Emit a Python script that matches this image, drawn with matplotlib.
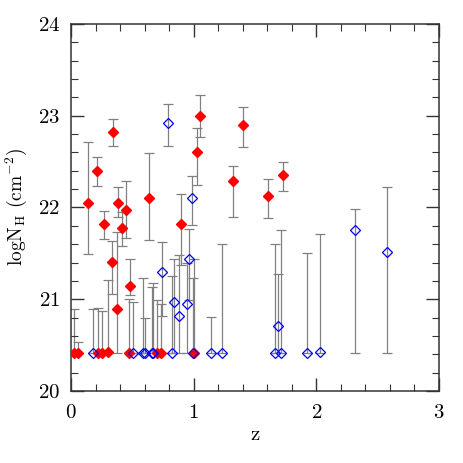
import matplotlib
matplotlib.use("Agg")
import matplotlib.pyplot as plt
from matplotlib.ticker import MultipleLocator
import numpy as np

# filled red diamonds: z, logNH, lower end, upper end of bar
red_z = [0.027, 0.054, 0.141, 0.209, 0.223, 0.250, 0.269, 0.299, 0.334, 0.345,
         0.372, 0.386, 0.418, 0.448, 0.476, 0.481, 0.638, 0.700, 0.730, 0.896,
         1.000, 1.027, 1.051, 1.323, 1.399, 1.608, 1.725]
red_n = [20.41, 20.41, 22.05, 22.40, 20.41, 20.41, 21.82, 20.43, 21.41, 22.82,
         20.89, 22.05, 21.78, 21.97, 20.41, 21.14, 22.10, 20.41, 20.41, 21.82,
         20.41, 22.60, 23.00, 22.29, 22.90, 22.12, 22.35]
red_lo = [20.41, 20.41, 21.49, 22.23, 20.41, 20.41, 21.66, 20.41, 21.06, 22.67,
          20.41, 21.90, 21.58, 21.67, 20.41, 21.05, 21.65, 20.41, 20.41, 21.37,
          20.41, 22.25, 22.77, 21.90, 22.66, 21.89, 22.18]
red_hi = [20.89, 20.53, 22.71, 22.55, 20.91, 20.87, 21.96, 21.21, 21.64, 22.96,
          21.73, 22.22, 21.95, 22.29, 21.00, 21.44, 22.59, 20.99, 20.95, 22.15,
          21.44, 22.87, 23.23, 22.45, 23.09, 22.31, 22.50]

# open blue diamonds
blue_z = [0.180, 0.503, 0.590, 0.600, 0.660, 0.670, 0.739, 0.788, 0.826, 0.842,
          0.880, 0.943, 0.964, 0.989, 0.995, 1.141, 1.231, 1.665, 1.690, 1.709,
          1.923, 2.029, 2.315, 2.573]
blue_n = [20.41, 20.41, 20.41, 20.41, 20.41, 20.41, 21.30, 22.92, 20.41, 20.97,
          20.82, 20.95, 21.44, 22.10, 20.41, 20.41, 20.41, 20.41, 20.71, 20.41,
          20.41, 20.42, 21.75, 21.52]
blue_lo = [20.41, 20.41, 20.41, 20.41, 20.41, 20.41, 20.82, 22.67, 20.41, 20.41,
           20.41, 20.41, 20.99, 21.81, 20.41, 20.41, 20.41, 20.41, 20.41, 20.41,
           20.41, 20.41, 20.41, 20.41]
blue_hi = [20.89, 20.97, 21.23, 20.80, 21.13, 21.18, 21.62, 23.13, 21.25, 21.44,
           21.48, 21.40, 21.77, 22.34, 21.23, 20.81, 21.60, 21.60, 21.27, 21.75,
           21.50, 21.71, 21.98, 22.22]

plt.rcParams['font.family'] = ['cmr10', 'DejaVu Serif']
plt.rcParams['mathtext.fontset'] = 'cm'
plt.rcParams['axes.formatter.use_mathtext'] = True

fig = plt.figure(figsize=(4.63, 4.63), dpi=100)
ax = fig.add_axes([0.1534, 0.1555, 0.7946, 0.7927])

ebar = dict(fmt='none', ecolor='#808080', elinewidth=0.9, capsize=3.5, capthick=0.9, zorder=1)

rn = np.array(red_n)
ax.errorbar(red_z, rn, yerr=[rn - np.array(red_lo), np.array(red_hi) - rn], **ebar)
bn = np.array(blue_n)
ax.errorbar(blue_z, bn, yerr=[bn - np.array(blue_lo), np.array(blue_hi) - bn], **ebar)

ax.plot(red_z, red_n, linestyle='none', marker='D', ms=5, mfc='red', mec='red', zorder=3)
ax.plot(blue_z, blue_n, linestyle='none', marker='D', ms=5, mfc='none', mec='blue',
        mew=0.9, zorder=3)

ax.set_xlim(0, 3)
ax.set_ylim(20, 24)
ax.xaxis.set_major_locator(MultipleLocator(1))
ax.xaxis.set_minor_locator(MultipleLocator(0.2))
ax.yaxis.set_major_locator(MultipleLocator(1))
ax.yaxis.set_minor_locator(MultipleLocator(0.2))
ax.tick_params(which='both', direction='in', top=True, right=True, color='#333333',
               labelsize=15)
ax.tick_params(axis='x', pad=9)
ax.tick_params(axis='y', pad=8)
ax.tick_params(which='major', length=9.5, width=1)
ax.tick_params(which='minor', length=5, width=0.8)
for s in ax.spines.values():
    s.set_linewidth(1.1)
    s.set_color('#333333')

ax.set_xlabel('z', fontsize=15, labelpad=3)
ax.set_ylabel(r'logN$_{\rm H}$ (cm$^{-2}$)', fontsize=14, labelpad=6)

fig.savefig('out.png', dpi=100)
